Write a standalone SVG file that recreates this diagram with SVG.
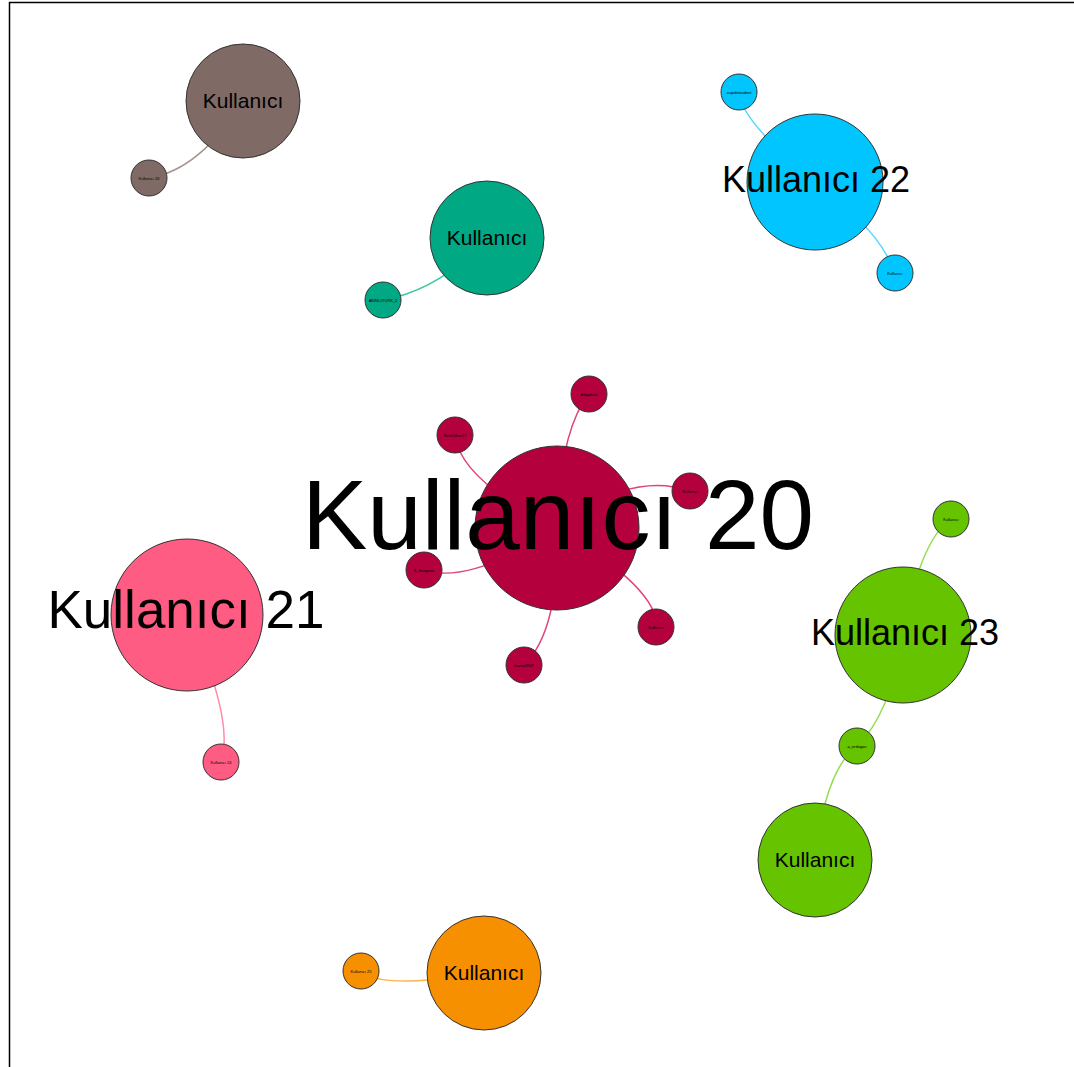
<svg xmlns="http://www.w3.org/2000/svg" width="1074" height="1067" viewBox="0 0 1074 1067">
<style>
  .n { stroke: #333; stroke-width: 1; }
  .e { fill: none; stroke-width: 1.5; }
  text { font-family: "Liberation Sans", Arial, sans-serif; fill: #000; text-anchor: middle; }
  .s { font-size: 4px; }
  .m { font-size: 21px; }
  .brown { fill: #7f6a66; } .teal { fill: #00a884; } .cyan { fill: #00c5ff; }
  .crim { fill: #b5003e; } .pink { fill: #ff5c84; } .green { fill: #66c300; } .orange { fill: #f79000; }
</style>
<rect width="1074" height="1067" fill="#fff"/>
<path d="M9.5 1067 V2.5 H1074" fill="none" stroke="#000" stroke-width="1.5"/>
<g id="connectors">
  <path class="e" stroke="#a8958f" d="M149 178 Q200 170 243 101"/>
  <path class="e" stroke="#3cc7a3" d="M383 300 Q440 290 487 238"/>
  <path class="e" stroke="#55d6ff" d="M739 92 Q740 120 815 182"/>
  <path class="e" stroke="#55d6ff" d="M815 182 Q880 230 895 273"/>
  <path class="e" stroke="#e0457a" d="M589 394 Q560 430 557 528"/>
  <path class="e" stroke="#e0457a" d="M455 435 Q460 480 557 528"/>
  <path class="e" stroke="#e0457a" d="M690 491 Q630 470 557 528"/>
  <path class="e" stroke="#e0457a" d="M424 570 Q470 585 557 528"/>
  <path class="e" stroke="#e0457a" d="M656 627 Q660 590 557 528"/>
  <path class="e" stroke="#e0457a" d="M524 665 Q560 630 557 528"/>
  <path class="e" stroke="#ff8aa6" d="M221 762 Q235 720 187 615"/>
  <path class="e" stroke="#93dc4a" d="M951 519 Q920 540 903 635"/>
  <path class="e" stroke="#93dc4a" d="M857 746 Q890 715 903 635"/>
  <path class="e" stroke="#93dc4a" d="M857 746 Q825 770 815 860"/>
  <path class="e" stroke="#ffb34d" d="M361 971 Q380 990 484 973"/>
</g>
<g id="n-brown"><circle class="n brown" cx="243" cy="101" r="57"/><text class="m" x="243" y="108">Kullanıcı</text></g>
<g id="n-brown-s"><circle class="n brown" cx="149" cy="178" r="18"/><text class="s" x="149" y="179.5">Kullanıcı 26</text></g>
<g id="n-teal"><circle class="n teal" cx="487" cy="238" r="57"/><text class="m" x="487" y="245">Kullanıcı</text></g>
<g id="n-teal-s"><circle class="n teal" cx="383" cy="300" r="18"/><text class="s" x="383" y="301.5">AKINCITURK_2</text></g>
<g id="n-cyan"><circle class="n cyan" cx="815" cy="182" r="68"/><text x="816" y="192" font-size="36">Kullanıcı 22</text></g>
<g id="n-cyan-s1"><circle class="n cyan" cx="739" cy="92" r="18"/><text class="s" x="739" y="93.5">aspidistradeni</text></g>
<g id="n-cyan-s2"><circle class="n cyan" cx="895" cy="273" r="18"/><text class="s" x="895" y="274.5">Kullanıcı</text></g>
<g id="n-crim"><circle class="n crim" cx="557" cy="528" r="82"/></g>
<g id="n-crim-s1"><circle class="n crim" cx="589" cy="394" r="18"/><text class="s" x="589" y="395.5">Adaptivar</text></g>
<g id="n-crim-s2"><circle class="n crim" cx="455" cy="435" r="18"/><text class="s" x="455" y="436.5">SeniCihaz77</text></g>
<g id="n-crim-s3"><circle class="n crim" cx="690" cy="491" r="18"/><text class="s" x="690" y="492.5">Kullanıcı</text></g>
<g id="n-crim-s4"><circle class="n crim" cx="424" cy="570" r="18"/><text class="s" x="424" y="571.5">K_Sezgeen</text></g>
<g id="n-crim-s5"><circle class="n crim" cx="656" cy="627" r="18"/><text class="s" x="656" y="628.5">Kullanıcı</text></g>
<g id="n-crim-s6"><circle class="n crim" cx="524" cy="665" r="18"/><text class="s" x="524" y="666.5">kazan1907</text></g>
<g id="n-pink"><circle class="n pink" cx="187" cy="615" r="76"/></g>
<g id="n-pink-s"><circle class="n pink" cx="221" cy="762" r="18"/><text class="s" x="221" y="763.5">Kullanıcı 24</text></g>
<g id="n-green"><circle class="n green" cx="903" cy="635" r="68"/><text x="905" y="645" font-size="36">Kullanıcı 23</text></g>
<g id="n-green-s1"><circle class="n green" cx="951" cy="519" r="18"/><text class="s" x="951" y="520.5">Kullanıcı</text></g>
<g id="n-green-s2"><circle class="n green" cx="857" cy="746" r="18"/><text class="s" x="857" y="747.5">a_erdogan</text></g>
<g id="n-green2"><circle class="n green" cx="815" cy="860" r="57"/><text class="m" x="815" y="867">Kullanıcı</text></g>
<g id="n-orange"><circle class="n orange" cx="484" cy="973" r="57"/><text class="m" x="484" y="980">Kullanıcı</text></g>
<g id="n-orange-s"><circle class="n orange" cx="361" cy="971" r="18"/><text class="s" x="361" y="972.5">Kullanıcı 25</text></g>
<g id="labels-big">
  <text x="558" y="549" font-size="98">Kullanıcı 20</text>
  <text x="186" y="628" font-size="53">Kullanıcı 21</text>
</g>
</svg>
